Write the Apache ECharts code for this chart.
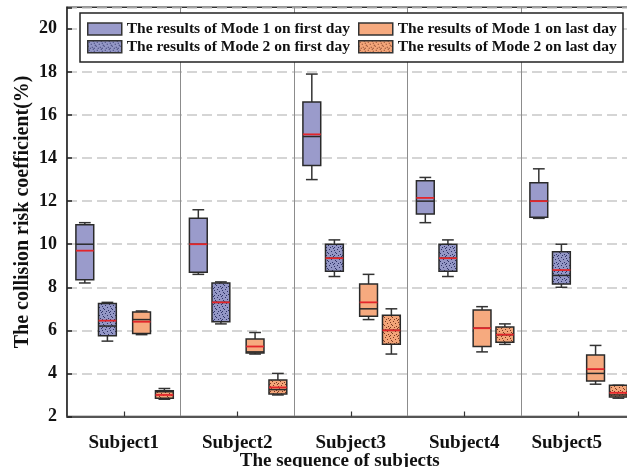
<!DOCTYPE html>
<html>
<head>
<meta charset="utf-8">
<script src="https://cdn.jsdelivr.net/npm/echarts@6/dist/echarts.min.js"></script>
<style>
  html, body { margin: 0; padding: 0; background: #fff; }
  #chart { width: 627px; height: 467px; }
</style>
</head>
<body>
<div id="chart"></div>
<script>
// Subjects on the horizontal axis
const subjects = ['Subject1', 'Subject2', 'Subject3', 'Subject4', 'Subject5'];
const yTicks = [2, 4, 6, 8, 10, 12, 14, 16, 18, 20];

// Each row: [low whisker, Q1, median, Q3, high whisker, mean] per subject
const mode1First = [
  [8.2, 8.35, 10.0, 10.9, 11.0, 9.7],
  [8.6, 8.7, 10.0, 11.2, 11.6, 10.0],
  [13.0, 13.65, 15.0, 16.6, 17.9, 15.1],
  [11.0, 11.4, 12.0, 12.95, 13.1, 12.15],
  [11.2, 11.25, 12.0, 12.85, 13.5, 12.0]
];
const mode2First = [
  [5.5, 5.75, 6.2, 7.25, 7.3, 6.45],
  [6.3, 6.4, 7.3, 8.2, 8.25, 7.3],
  [8.5, 8.75, 9.35, 10.0, 10.2, 9.35],
  [8.5, 8.75, 9.35, 10.0, 10.2, 9.35],
  [8.0, 8.15, 8.55, 9.65, 10.0, 8.8]
];
const mode1Last = [
  [5.8, 5.85, 6.5, 6.85, 6.9, 6.4],
  [4.9, 4.95, 5.0, 5.6, 5.9, 5.25],
  [6.5, 6.65, 7.0, 8.15, 8.6, 7.3],
  [5.0, 5.25, 6.1, 6.95, 7.1, 6.1],
  [3.5, 3.65, 4.0, 4.85, 5.3, 4.2]
];
const mode2Last = [
  [2.8, 2.85, 3.15, 3.2, 3.3, 3.0],
  [3.0, 3.05, 3.25, 3.7, 4.0, 3.35],
  [4.9, 5.35, 6.0, 6.7, 7.0, 6.0],
  [5.35, 5.45, 5.8, 6.15, 6.3, 5.8],
  [2.85, 2.9, 3.0, 3.45, 3.45, 3.1]
];

const names = [
  'The results of Mode 1 on first day',
  'The results of Mode 2 on first day',
  'The results of Mode 1 on last day',
  'The results of Mode 2 on last day'
];

const FONT = '"Liberation Serif", "Times New Roman", serif';

// Speckled fill used for the Mode 2 boxes
function speckle(base, dot) {
  const c = document.createElement('canvas');
  c.width = 8; c.height = 8;
  const g = c.getContext('2d');
  g.fillStyle = base;
  g.fillRect(0, 0, 8, 8);
  g.fillStyle = dot;
  [[1, 1], [5, 0], [3, 3], [7, 4], [0, 5], [4, 6], [6, 2], [2, 7], [6, 7]].forEach(function (p) {
    g.fillRect(p[0], p[1], 1, 1);
  });
  return { image: c, repeat: 'repeat' };
}

const fills = [
  '#9a9bcb',
  speckle('#9497c6', '#2e3366'),
  '#f6aa7f',
  speckle('#f3a579', '#7a3a22')
];
// Position of each box inside a category band (fraction of band width from its centre)
const offsets = [-0.343, -0.144, 0.157, 0.358];
const BOX_W = 0.157;

function toRows(rows) {
  return rows.map(function (r, i) { return [i].concat(r); });
}

function makeRender(k) {
  return function (params, api) {
    const cat = api.value(0);
    const band = api.size([1, 0])[0];
    const cx = api.coord([cat, 0])[0] + offsets[k] * band;
    const w = BOX_W * band;
    const cap = w * 0.66;
    const y = function (v) { return api.coord([cat, v])[1]; };
    const low = y(api.value(1)), q1 = y(api.value(2)), med = y(api.value(3));
    const q3 = y(api.value(4)), high = y(api.value(5)), mean = y(api.value(6));
    const lineStyle = { stroke: '#333', lineWidth: 1.5 };
    return {
      type: 'group',
      children: [
        { type: 'line', shape: { x1: cx, y1: high, x2: cx, y2: q3 }, style: lineStyle },
        { type: 'line', shape: { x1: cx, y1: q1, x2: cx, y2: low }, style: lineStyle },
        { type: 'line', shape: { x1: cx - cap / 2, y1: high, x2: cx + cap / 2, y2: high }, style: lineStyle },
        { type: 'line', shape: { x1: cx - cap / 2, y1: low, x2: cx + cap / 2, y2: low }, style: lineStyle },
        { type: 'rect', shape: { x: cx - w / 2, y: q3, width: w, height: q1 - q3 },
          style: { fill: fills[k], stroke: '#2a2a2a', lineWidth: 1.5 } },
        { type: 'line', shape: { x1: cx - w / 2, y1: med, x2: cx + w / 2, y2: med },
          style: { stroke: '#2a2a2a', lineWidth: 1.5 } },
        { type: 'line', shape: { x1: cx - w / 2, y1: mean, x2: cx + w / 2, y2: mean },
          style: { stroke: '#e3262b', lineWidth: 1.8 } }
      ]
    };
  };
}

const groups = [mode1First, mode2First, mode1Last, mode2Last];

const legendText = { fontFamily: FONT, fontWeight: 'bold', fontSize: 15.5, color: '#111', lineHeight: 15 };
function legendItem(k) {
  return { name: names[k], itemStyle: { color: fills[k], borderColor: '#333', borderWidth: 1.5 } };
}

const chart = echarts.init(document.getElementById('chart'), null, { renderer: 'canvas' });
chart.setOption({
  animation: false,
  backgroundColor: '#fff',
  grid: {
    left: 67, top: 7.3, width: 567.5, bottom: 50.5,
    outerBoundsMode: 'none',
    containLabel: false,
    show: true, borderColor: '#333', borderWidth: 1.5, backgroundColor: 'transparent'
  },
  graphic: [{
    type: 'rect', z: 1,
    shape: { x: 80, y: 13, width: 543, height: 49 },
    style: { fill: '#fff', stroke: '#222', lineWidth: 1.5 }
  }],
  legend: [
    { orient: 'vertical', left: 87, top: 21, padding: 0, itemGap: 1.7, z: 5,
      itemWidth: 34, itemHeight: 12, icon: 'rect', textStyle: legendText,
      data: [legendItem(0), legendItem(1)] },
    { orient: 'vertical', left: 358, top: 21, padding: 0, itemGap: 1.7, z: 5,
      itemWidth: 34, itemHeight: 12, icon: 'rect', textStyle: legendText,
      data: [legendItem(2), legendItem(3)] }
  ],
  xAxis: {
    type: 'category',
    data: subjects,
    boundaryGap: true,
    name: 'The sequence of subjects',
    nameLocation: 'middle',
    nameGap: 35,
    nameMoveOverlap: false,
    nameTextStyle: { fontFamily: FONT, fontWeight: 'bold', fontSize: 19, color: '#111', padding: [0, 22, 0, 0] },
    axisLine: { show: true, lineStyle: { color: '#555', width: 2 } },
    axisTick: { show: true, interval: 0, inside: true, alignWithLabel: true, length: 5, lineStyle: { color: '#333', width: 1.2 } },
    axisLabel: {
      interval: 0,
      margin: 17,
      fontFamily: FONT, fontWeight: 'bold', fontSize: 19, color: '#111',
      formatter: function (v) { return v === 'Subject5' ? '{s|' + v + '}' : v; },
      rich: { s: { fontFamily: FONT, fontWeight: 'bold', fontSize: 19, color: '#111', padding: [0, 22, 0, 0] } }
    },
    splitLine: { show: true, interval: 0, lineStyle: { color: '#8c8c8c', width: 1 } }
  },
  yAxis: {
    type: 'value',
    min: 2, max: 21, interval: 2,
    name: 'The collision risk coefficient(%)',
    nameLocation: 'middle',
    nameGap: 34,
    nameMoveOverlap: false,
    nameTextStyle: { fontFamily: FONT, fontWeight: 'bold', fontSize: 20, color: '#111' },
    axisLine: { show: true, lineStyle: { color: '#333', width: 1.5 } },
    axisTick: { show: true, inside: true, length: 5, lineStyle: { color: '#222', width: 1.5 } },
    axisLabel: {
      margin: 10,
      fontFamily: FONT, fontWeight: 'bold', fontSize: 18, color: '#111',
      formatter: function (v) { return yTicks.indexOf(v) >= 0 ? String(v) : ''; }
    },
    splitLine: { show: true, lineStyle: { color: '#c8c8c8', width: 1.5, type: [10, 5] } }
  },
  series: groups.map(function (rows, k) {
    return {
      name: names[k],
      type: 'custom',
      renderItem: makeRender(k),
      itemStyle: { color: k < 2 ? '#9a9bcb' : '#f6aa7f' },
      encode: { x: 0, y: [1, 2, 3, 4, 5, 6] },
      data: toRows(rows),
      z: 3
    };
  })
});
</script>
</body>
</html>
